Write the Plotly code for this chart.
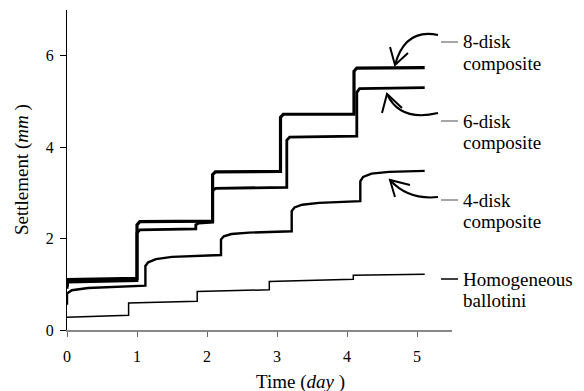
import plotly.graph_objects as go

# ---- data (time in days, settlement in mm) ----
t_8disk = [0, 0.01, 1.0, 1.0, 1.04, 2.08, 2.08, 2.12, 3.05, 3.05, 3.09, 4.10, 4.10, 4.14, 5.11]
s_8disk = [0.95, 1.10, 1.13, 2.30, 2.37, 2.38, 3.40, 3.46, 3.47, 4.65, 4.72, 4.72, 5.66, 5.73, 5.74]

t_6disk = [0, 0.01, 1.0, 1.0, 1.04, 1.84, 1.84, 1.88, 2.08, 2.08, 2.12, 3.14, 3.14, 3.18, 4.14, 4.14, 4.18, 5.11]
s_6disk = [0.90, 1.05, 1.08, 2.12, 2.19, 2.21, 2.30, 2.34, 2.36, 3.04, 3.10, 3.12, 4.15, 4.22, 4.24, 5.20, 5.28, 5.30]

t_4disk = [0, 0.0, 0.07, 0.3, 1.12, 1.12, 1.16, 1.27, 1.5, 2.20, 2.20, 2.24, 2.35, 2.6, 3.21, 3.21, 3.25, 3.36, 3.6, 4.19, 4.19, 4.23, 4.35, 4.6, 5.11]
s_4disk = [0.55, 0.80, 0.87, 0.92, 0.97, 1.40, 1.48, 1.55, 1.60, 1.64, 1.98, 2.05, 2.10, 2.13, 2.16, 2.60, 2.68, 2.74, 2.78, 2.82, 3.25, 3.35, 3.42, 3.46, 3.48]

t_homog = [0, 0.88, 0.88, 1.86, 1.86, 2.89, 2.89, 4.09, 4.09, 5.11]
s_homog = [0.28, 0.32, 0.59, 0.63, 0.84, 0.88, 1.06, 1.11, 1.20, 1.22]

x_ticks = [0, 1, 2, 3, 4, 5]
y_ticks = [0, 2, 4, 6]

label_lines = [("8-disk", "composite"), ("6-disk", "composite"),
               ("4-disk", "composite"), ("Homogeneous", "ballotini")]
x_title = "Time (<i>day</i> )"
y_title = "Settlement (<i>mm</i> )"

FONT = '"Liberation Serif", "Times New Roman", Times, serif'

fig = go.Figure()
series = [
    (t_8disk, s_8disk, 3.2),
    (t_6disk, s_6disk, 2.8),
    (t_4disk, s_4disk, 2.4),
    (t_homog, s_homog, 1.5),
]
for t, s, w in series:
    fig.add_trace(go.Scatter(x=t, y=s, mode="lines", line=dict(color="black", width=w),
                             showlegend=False, hoverinfo="skip"))

# page offset of the figure (body margin); plot area in page pixels: x 67..452, y 10..330
OFF = 8
def PX(px):
    return (px - 67) / 385.0

def PY(py):
    return (330 - py) / 320.0

def path(pts_cmd):
    out = []
    for item in pts_cmd:
        if isinstance(item, str):
            out.append(item)
        else:
            out.append(f"{PX(item[0]):.4f},{PY(item[1]):.4f}")
    return " ".join(out)

shapes = []
arrow_defs = [
    # start, control, tip, barb1, barb2
    ((438, 35), (405, 28), (395, 65), (390, 47), (408, 53)),
    ((438, 113), (400, 122), (387, 94), (382, 113), (402, 108)),
    ((438, 197), (408, 200), (390, 180), (395, 197), (410, 185)),
]
for st, c, tip, b1, b2 in arrow_defs:
    shapes.append(dict(type="path", xref="paper", yref="paper",
                       path=path(["M", st, "Q", c, tip]),
                       line=dict(color="black", width=2)))
    shapes.append(dict(type="path", xref="paper", yref="paper",
                       path=path(["M", b1, "L", tip, "L", b2]),
                       line=dict(color="black", width=2)))

dash_y = [42, 121, 200, 279]
dash_col = ["#888888", "#888888", "#888888", "black"]
for yy, cc in zip(dash_y, dash_col):
    shapes.append(dict(type="line", xref="paper", yref="paper",
                       x0=PX(441), x1=PX(458), y0=PY(yy), y1=PY(yy),
                       line=dict(color=cc, width=1.5)))

annotations = []
label_y = [42, 121, 200, 279]
for (l1, l2), yy in zip(label_lines, label_y):
    for txt, dy in ((l1, 0), (l2, 21)):
        annotations.append(dict(text=txt, xref="paper", yref="paper", x=PX(461), y=PY(yy + dy),
                                xanchor="left", yanchor="middle", align="left", showarrow=False,
                                font=dict(family=FONT, size=19, color="black")))

annotations.append(dict(text=x_title, xref="paper", yref="paper", x=PX(300), y=PY(382),
                        xanchor="center", yanchor="middle", showarrow=False,
                        font=dict(family=FONT, size=19, color="black")))
annotations.append(dict(text=y_title, xref="paper", yref="paper", x=PX(22), y=PY(170),
                        xanchor="center", yanchor="middle", showarrow=False, textangle=-90,
                        font=dict(family=FONT, size=19, color="black")))

fig.update_layout(
    width=584 - OFF, height=391 - OFF,
    margin=dict(l=67 - OFF, r=132, t=10 - OFF, b=61, autoexpand=False),
    paper_bgcolor="white", plot_bgcolor="white",
    font=dict(family=FONT, size=16, color="black"),
    shapes=shapes, annotations=annotations,
    xaxis=dict(range=[0, 5.5], tickvals=x_ticks, ticks="outside", ticklen=5, tickcolor="#666666",
               showline=True, linecolor="#888888", linewidth=2, showgrid=False, zeroline=False,
               ticklabelstandoff=6, tickfont=dict(family=FONT, size=16)),
    yaxis=dict(range=[0, 7], tickvals=y_ticks, ticks="outside", ticklen=6, tickcolor="black",
               showline=True, linecolor="black", linewidth=1, showgrid=False, zeroline=False,
               ticklabelstandoff=3, tickfont=dict(family=FONT, size=16)),
)

fig.write_html("out.html")
